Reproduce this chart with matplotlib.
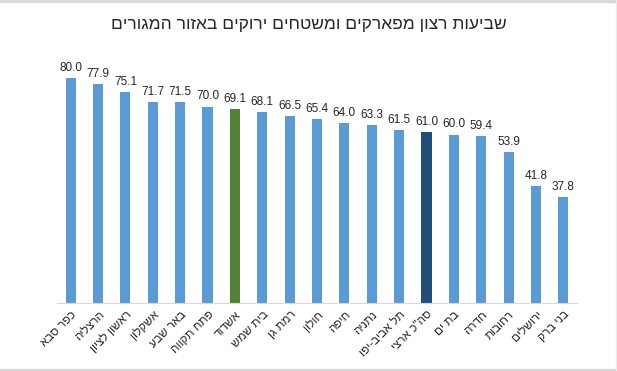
import matplotlib
matplotlib.use("Agg")
import matplotlib.pyplot as plt
from matplotlib.lines import Line2D

plt.rcParams['font.family'] = ['Liberation Sans', 'DejaVu Sans']

title = "שביעות רצון מפארקים ומשטחים ירוקים באזור המגורים"
cities = ["כפר סבא", "הרצליה", "ראשון לציון", "אשקלון", "באר שבע", "פתח תקווה",
          "אשדוד", "בית שמש", "רמת גן", "חולון", "חיפה", "נתניה", "תל אביב-יפו",
          "סה\"כ ארצי", "בת ים", "חדרה", "רחובות", "ירושלים", "בני ברק"]
values = [80.0, 77.9, 75.1, 71.7, 71.5, 70.0, 69.1, 68.1, 66.5, 65.4,
          64.0, 63.3, 61.5, 61.0, 60.0, 59.4, 53.9, 41.8, 37.8]

BLUE = "#5B9BD5"
GREEN = "#548235"
NAVY = "#1F4E79"
colors = [BLUE] * len(cities)
colors[cities.index("אשדוד")] = GREEN
colors[cities.index("סה\"כ ארצי")] = NAVY


def rtl(s):
    # matplotlib has no bidi support, so flip Hebrew to visual order
    return s[::-1]


fig = plt.figure(figsize=(6.17, 3.71), dpi=100)
# screenshot frame: gray bands top and bottom, faint line on the right
fig.lines.append(Line2D([0, 1], [0.996, 0.996], transform=fig.transFigure,
                        color="#D9D9D9", linewidth=2.5))
fig.lines.append(Line2D([0, 1], [0.004, 0.004], transform=fig.transFigure,
                        color="#D9D9D9", linewidth=2.5))
fig.lines.append(Line2D([0.998, 0.998], [0, 1], transform=fig.transFigure,
                        color="#EDEDED", linewidth=1))
ax = fig.add_axes([0.0924, 0.1833, 0.8428, 0.668])

x = range(len(cities))
bars = ax.bar(x, values, width=0.37, color=colors)
for b, v in zip(bars, values):
    ax.annotate(f"{v:.1f}", (b.get_x() + b.get_width() / 2, v), xytext=(0, 3),
                textcoords="offset points", ha="center", va="bottom",
                fontsize=8.5, color="#262626")

ax.set_xlim(-0.5, len(cities) - 0.5)
ax.set_ylim(0, 88.3)
ax.set_xticks(list(x))
ax.set_xticklabels([rtl(c) for c in cities], rotation=45, ha="right",
                   rotation_mode="anchor", fontsize=8.5, color="#262626")
ax.tick_params(axis="x", length=0, pad=4)
ax.set_yticks([])
for side in ["top", "left", "right"]:
    ax.spines[side].set_visible(False)
ax.spines["bottom"].set_color("#D9D9D9")

fig.text(0.5, 0.935, rtl(title), ha="center", va="center", fontsize=12.5, color="#262626")

fig.savefig("out.png", dpi=100)
